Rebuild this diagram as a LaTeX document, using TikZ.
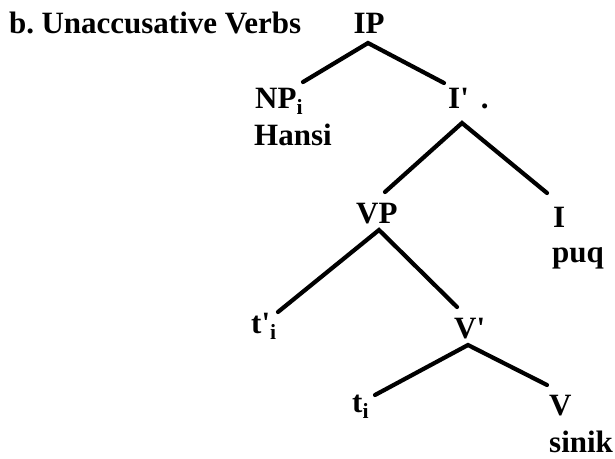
\documentclass[tikz,border=0pt]{standalone}
\usepackage{fontspec}
\setmainfont{Liberation Serif}
\begin{document}
\begin{tikzpicture}[x=1pt,y=-1pt,
  lbl/.style={inner sep=0pt,anchor=base west,font=\bfseries\fontsize{31}{36}\selectfont},
  branch/.style={line width=4.2pt,line cap=round}]
\useasboundingbox (0,0) rectangle (615,458);
\node[lbl] (title) at (9,33) {b.\hspace{-3pt} Unaccusative Verbs};
\node[lbl,anchor=base] (IP) at (369,33) {IP};
\node[lbl] (NP) at (255,108) {NP\textsubscript{i}};
\node[lbl] (hansi) at (254,145) {Hansi};
\node[lbl] (Ibar) at (448,108) {I\textquotesingle\hspace{12pt}.};
\node[lbl] (VP) at (356,223) {VP};
\node[lbl] (I) at (553,227) {I};
\node[lbl] (puq) at (552,262) {puq};
\node[lbl] (tp) at (251,333) {t\textquotesingle\textsubscript{i}};
\node[lbl] (Vbar) at (454,338) {V\textquotesingle};
\node[lbl] (t) at (352,412) {t\textsubscript{i}};
\node[lbl] (V) at (549,415) {V};
\node[lbl] (sinik) at (549,452) {sinik};
% branches
\draw[branch] ([shift={(48,-26)}]NP.base west) -- ([shift={(-1,10)}]IP.base) -- ([shift={(-4,-25)}]Ibar.base west);
\draw[branch] ([shift={(29,-31)}]VP.base west) -- ([shift={(14,15)}]Ibar.base west) -- ([shift={(-6,-34)}]I.base west);
\draw[branch] ([shift={(27,-21)}]tp.base west) -- ([shift={(23,7)}]VP.base west) -- ([shift={(3,-31)}]Vbar.base west);
\draw[branch] ([shift={(23,-17)}]t.base west) -- ([shift={(14,7)}]Vbar.base west) -- ([shift={(-2,-30)}]V.base west);
\end{tikzpicture}
\end{document}
